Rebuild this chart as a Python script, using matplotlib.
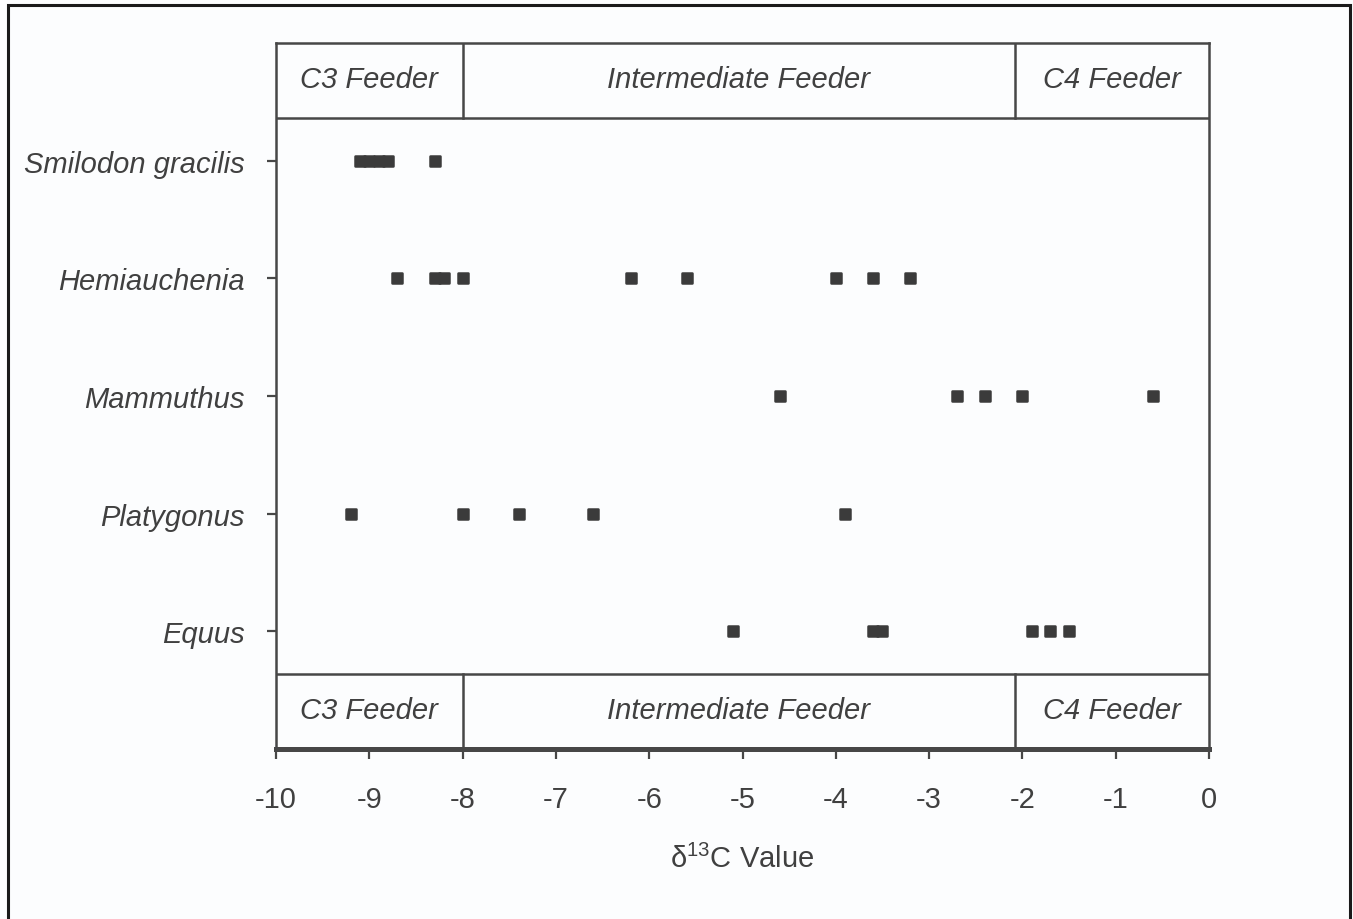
import numpy as np
import matplotlib.pyplot as plt
from matplotlib.markers import MarkerStyle
from matplotlib.patches import Rectangle

# species rows, top to bottom
species = ['Smilodon gracilis', 'Hemiauchenia', 'Mammuthus', 'Platygonus', 'Equus']

smilodon = [-9.1, -9.0, -8.9, -8.8, -8.3]
hemiauchenia = [-8.7, -8.3, -8.2, -8.0, -6.2, -5.6, -4.0, -3.6, -3.2]
mammuthus = [-4.6, -2.7, -2.4, -2.0, -0.6]
platygonus = [-9.2, -8.0, -7.4, -6.6, -3.9]
equus = [-5.1, -3.6, -3.5, -1.9, -1.7, -1.5]

# feeder zones (d13C boundaries) and labels
zone_edges = [-10, -8, -2.08, 0]
zone_labels = ['C3 Feeder', 'Intermediate Feeder', 'C4 Feeder']

x_ticks = np.arange(-10, 1, 1)

plt.rcParams['font.family'] = ['Liberation Sans', 'DejaVu Sans']
ink = '#404040'
line_c = '#474747'
fs = 21

fig = plt.figure(figsize=(13.53, 9.2), dpi=100)
fig.patch.set_facecolor('#fcfdfe')

# outer frame
fig.patches.append(Rectangle((8 / 1353, -0.05), (1350 - 8) / 1353, 1.05 - 6 / 920,
                             transform=fig.transFigure, fill=False,
                             edgecolor='#1a1a1a', linewidth=2.2))

ax = fig.add_axes([276 / 1353, 1 - 750 / 920, (1209 - 276) / 1353, (750 - 44) / 920])
ax.set_facecolor('#fcfdfe')

marker = MarkerStyle('s', joinstyle='round')
all_values = [smilodon, hemiauchenia, mammuthus, platygonus, equus]
for row, vals in enumerate(all_values, start=1):
    ax.plot(vals, [row] * len(vals), linestyle='none', marker=marker,
            markersize=7.2, markerfacecolor='#3b3b3b', markeredgecolor='#3b3b3b',
            markeredgewidth=1.8)

ax.set_xlim(-10, 0)
ax.set_ylim(6, 0)

# feeder bands at top and bottom
band_top = 0.64
band_bot = 5.36
ax.axhline(band_top, color=line_c, lw=1.8)
ax.axhline(band_bot, color=line_c, lw=1.8)
for edge in zone_edges[1:-1]:
    ax.plot([edge, edge], [0, band_top], color=line_c, lw=1.8)
    ax.plot([edge, edge], [band_bot, 6], color=line_c, lw=1.8)
for lo, hi, lab in zip(zone_edges[:-1], zone_edges[1:], zone_labels):
    for yc in [band_top / 2 - 0.01, (band_bot + 6) / 2 - 0.01]:
        ax.text((lo + hi) / 2, yc, lab, ha='center', va='center',
                fontsize=fs, style='italic', color=ink)

ax.set_yticks(range(1, len(species) + 1))
ax.set_yticklabels(species, fontsize=fs, style='italic', color=ink)
ax.set_xticks(x_ticks)
ax.set_xticklabels([f'{t:d}' for t in x_ticks], fontsize=fs, color=ink)
ax.tick_params(axis='y', length=6.5, width=1.6, color=line_c, pad=16)
ax.tick_params(axis='x', length=7, width=1.6, color=line_c, pad=19)

for side in ['left', 'right', 'top']:
    ax.spines[side].set_linewidth(1.8)
    ax.spines[side].set_color(line_c)
ax.spines['bottom'].set_linewidth(3.6)
ax.spines['bottom'].set_color(line_c)

ax.set_xlabel('δ$^{\\mathregular{13}}$C Value', fontsize=fs, color=ink, labelpad=22)

fig.savefig('out.png', dpi=100, facecolor=fig.get_facecolor())
